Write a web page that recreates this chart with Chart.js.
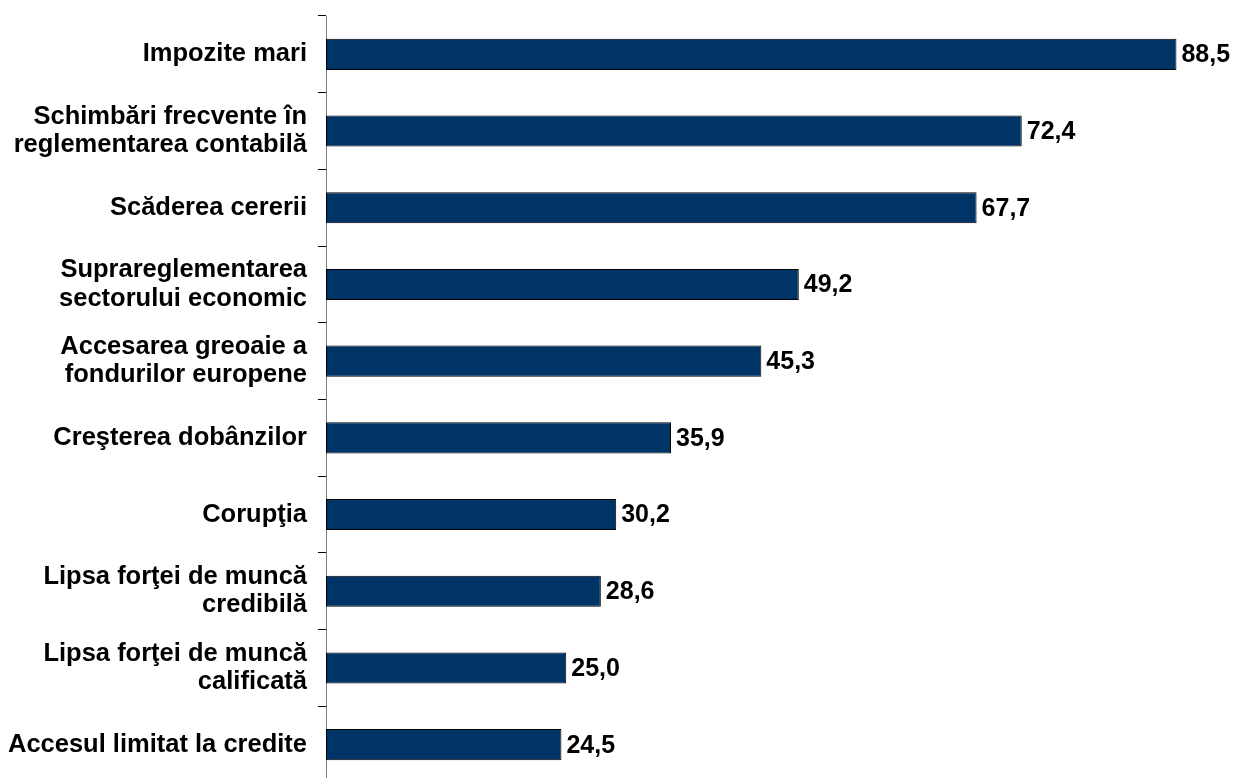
<!DOCTYPE html>
<html>
<head>
<meta charset="utf-8">
<script src="https://cdn.jsdelivr.net/npm/chart.js@4.4.1/dist/chart.umd.min.js"></script>
<style>
  html, body { margin:0; padding:0; background:#fff; overflow:hidden; }
  #wrap { position:relative; width:1237px; height:785px; }
</style>
</head>
<body>
<div id="wrap"><canvas id="chart"></canvas></div>
<script>
const categories = [
  'Impozite mari',
  ['Schimbări frecvente în', 'reglementarea contabilă'],
  'Scăderea cererii',
  ['Suprareglementarea', 'sectorului economic'],
  ['Accesarea greoaie a', 'fondurilor europene'],
  'Creşterea dobânzilor',
  'Corupţia',
  ['Lipsa forţei de muncă', 'credibilă'],
  ['Lipsa forţei de muncă', 'calificată'],
  'Accesul limitat la credite'
]
const values = [88.5, 72.4, 67.7, 49.2, 45.3, 35.9, 30.2, 28.6, 25.0, 24.5]

const fontFamily = '"Liberation Sans", Arial, sans-serif'
const fmtVal = v => v.toFixed(1).replace('.', ',')

const valueLabels = {
  id: 'valueLabels',
  afterDatasetsDraw(chart) {
    const ctx = chart.ctx
    const meta = chart.getDatasetMeta(0)
    ctx.save()
    ctx.font = 'bold 25px ' + fontFamily
    ctx.fillStyle = '#000'
    ctx.textAlign = 'left'
    ctx.textBaseline = 'middle'
    meta.data.forEach((bar, i) => {
      ctx.fillText(fmtVal(values[i]), bar.x + 5, bar.y + 1)
    })
    ctx.restore()
  }
}

new Chart(document.getElementById('chart'), {
  type: 'bar',
  data: {
    labels: categories,
    datasets: [{
      data: values,
      backgroundColor: '#003366',
      borderColor: '#000',
      borderWidth: 1,
      borderSkipped: false,
      categoryPercentage: 1,
      barPercentage: 0.405
    }]
  },
  options: {
    indexAxis: 'y',
    responsive: true,
    maintainAspectRatio: false,
    animation: false,
    layout: { padding: { top: 16, bottom: 2, left: 0, right: 0 } },
    plugins: { legend: { display: false }, tooltip: { enabled: false } },
    scales: {
      x: {
        display: false,
        min: 0,
        max: 94.8
      },
      y: {
        offset: true,
        afterFit: axis => {
          axis.width = 326
          axis.paddingTop = 0
          axis.paddingBottom = 0
        },
        border: { display: true, color: '#808080', width: 1 },
        grid: { offset: true, drawOnChartArea: false, drawTicks: true, tickLength: 8, tickColor: '#000' },
        ticks: {
          color: '#000',
          padding: 11,
          font: { family: fontFamily, size: 25.5, weight: 'bold', lineHeight: 1.11 }
        }
      }
    }
  },
  plugins: [valueLabels]
})
</script>
</body>
</html>
